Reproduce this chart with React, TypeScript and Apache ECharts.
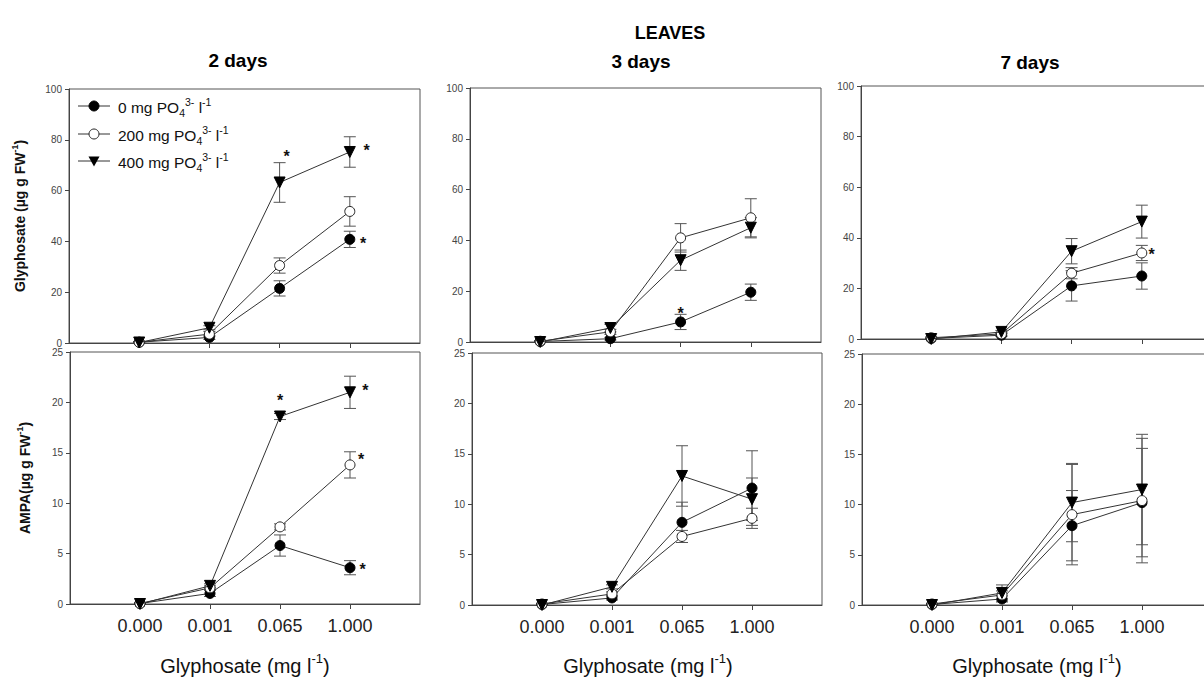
import React, { useEffect, useRef } from 'react';
import * as echarts from 'echarts';

const FONT = 'Arial, "Liberation Sans", Helvetica, sans-serif';

// Categories (glyphosate concentration, mg l-1)
const concLabels = ['0.000', '0.001', '0.065', '1.000'];
const concPos = [0, 1, 2, 3];
const dayTitles = ['2 days', '3 days', '7 days'];

// Glyphosate in leaves (µg g FW-1); rows: 0, 200, 400 mg PO4 3- l-1
const gly2dMeans = [
  [0.3, 2.2, 21.5, 40.8],
  [0.3, 3.5, 30.5, 51.8],
  [0.2, 6.0, 63.2, 75.2],
];
const gly2dErr = [
  [0.3, 0.8, 3.0, 3.2],
  [0.3, 1.0, 3.0, 5.8],
  [0.3, 0.8, 7.8, 6.0],
];
const gly3dMeans = [
  [0.2, 1.3, 7.9, 19.6],
  [0.3, 4.0, 41.0, 48.9],
  [0.0, 5.5, 32.2, 45.0],
];
const gly3dErr = [
  [0.2, 0.5, 3.0, 3.2],
  [0.3, 1.0, 5.6, 7.5],
  [0.2, 1.5, 4.0, 4.0],
];
const gly7dMeans = [
  [0.2, 1.5, 21.0, 24.9],
  [0.5, 2.0, 26.0, 34.0],
  [0.0, 2.8, 34.7, 46.4],
];
const gly7dErr = [
  [0.2, 0.5, 6.0, 5.2],
  [0.3, 0.6, 2.2, 3.0],
  [0.2, 0.6, 5.0, 6.5],
];

// AMPA in leaves (µg g FW-1)
const ampa2dMeans = [
  [0.05, 1.05, 5.8, 3.6],
  [0.05, 1.6, 7.65, 13.8],
  [0.0, 1.8, 18.6, 21.0],
];
const ampa2dErr = [
  [0.05, 0.3, 1.05, 0.7],
  [0.05, 0.2, 0.3, 1.3],
  [0.05, 0.2, 0.3, 1.6],
];
const ampa3dMeans = [
  [0.05, 0.7, 8.2, 11.6],
  [0.1, 1.1, 6.8, 8.6],
  [0.0, 1.8, 12.8, 10.5],
];
const ampa3dErr = [
  [0.05, 0.2, 2.0, 3.7],
  [0.05, 0.2, 0.6, 1.0],
  [0.05, 0.2, 3.0, 2.1],
];
const ampa7dMeans = [
  [0.05, 0.6, 7.9, 10.2],
  [0.1, 1.0, 9.0, 10.4],
  [0.0, 1.2, 10.2, 11.5],
];
const ampa7dErr = [
  [0.05, 0.3, 3.5, 5.4],
  [0.05, 0.4, 5.0, 6.2],
  [0.05, 0.8, 3.9, 5.5],
];

// Significance asterisks [x position, value]
const gly2dStars = [[2.1, 74.9], [3.24, 77.2], [3.19, 40.6]];
const gly3dStars = [[2.0, 12.8]];
const gly7dStars = [[3.14, 34.9]];
const ampa2dStars = [[2.0, 20.6], [3.22, 21.6], [3.16, 14.7], [3.18, 3.8]];
const ampa3dStars: number[][] = [];
const ampa7dStars: number[][] = [];

const glyTicks = { max: 100, interval: 20 };
const ampaTicks = { max: 25, interval: 5 };

type Panel = {
  means: number[][];
  errs: number[][];
  stars: number[][];
  left: number;
  top: number;
  width: number;
  height: number;
  yMax: number;
  yInterval: number;
  bottom: boolean;
};

const panels: Panel[] = [
  { means: gly2dMeans, errs: gly2dErr, stars: gly2dStars, left: 69, top: 89, width: 351, height: 254, yMax: glyTicks.max, yInterval: glyTicks.interval, bottom: false },
  { means: ampa2dMeans, errs: ampa2dErr, stars: ampa2dStars, left: 70, top: 352, width: 350, height: 252, yMax: ampaTicks.max, yInterval: ampaTicks.interval, bottom: true },
  { means: gly3dMeans, errs: gly3dErr, stars: gly3dStars, left: 470, top: 88, width: 351, height: 254, yMax: glyTicks.max, yInterval: glyTicks.interval, bottom: false },
  { means: ampa3dMeans, errs: ampa3dErr, stars: ampa3dStars, left: 472, top: 353, width: 350, height: 252, yMax: ampaTicks.max, yInterval: ampaTicks.interval, bottom: true },
  { means: gly7dMeans, errs: gly7dErr, stars: gly7dStars, left: 861, top: 86, width: 351, height: 253, yMax: glyTicks.max, yInterval: glyTicks.interval, bottom: false },
  { means: ampa7dMeans, errs: ampa7dErr, stars: ampa7dStars, left: 862, top: 354, width: 350, height: 251, yMax: ampaTicks.max, yInterval: ampaTicks.interval, bottom: true },
];

const groupStyles = [
  { symbol: 'circle', size: 10, rotate: 0, fill: '#000', stroke: '#000' },
  { symbol: 'circle', size: 10, rotate: 0, fill: '#fff', stroke: '#222' },
  { symbol: 'triangle', size: 11, rotate: 180, fill: '#000', stroke: '#000' },
];

function buildOption() {
  const grid: any[] = [];
  const xAxis: any[] = [];
  const yAxis: any[] = [];
  const series: any[] = [];

  panels.forEach((p, i) => {
    grid.push({
      left: p.left, top: p.top, width: p.width, height: p.height,
      outerBoundsMode: 'none', containLabel: false,
      show: true, borderColor: '#555', borderWidth: 1, backgroundColor: 'transparent',
    });
    xAxis.push({
      gridIndex: i, type: 'value', min: -1, max: 4, interval: 1,
      axisLine: { show: true, onZero: false, lineStyle: { color: '#444', width: 1 } },
      axisTick: { show: true, customValues: concPos, length: 5, lineStyle: { color: '#444' } },
      axisLabel: {
        show: p.bottom, customValues: concPos, margin: 13,
        formatter: (v: number) => concLabels[Math.round(v)] ?? '',
        fontSize: 18, color: '#222', fontFamily: FONT,
      },
      splitLine: { show: false },
    });
    yAxis.push({
      gridIndex: i, type: 'value', min: 0, max: p.yMax, interval: p.yInterval,
      axisLine: { show: true, onZero: false, lineStyle: { color: '#444', width: 1 } },
      axisTick: { show: true, length: 4, lineStyle: { color: '#444' } },
      axisLabel: { fontSize: 10, color: '#444', margin: 7, fontFamily: FONT },
      splitLine: { show: false },
    });

    const errData: number[][] = [];
    p.means.forEach((row, g) => {
      row.forEach((v, k) => {
        const e = p.errs[g][k];
        errData.push([concPos[k], Math.max(0, v - e), v + e]);
      });
    });
    series.push({
      type: 'custom', xAxisIndex: i, yAxisIndex: i, z: 1, silent: true,
      data: errData,
      renderItem: (_params: any, api: any) => {
        const x = api.value(0);
        const top = api.coord([x, api.value(2)]);
        const bot = api.coord([x, api.value(1)]);
        const w = 6;
        const st = { stroke: '#555', lineWidth: 1 };
        return {
          type: 'group',
          children: [
            { type: 'line', shape: { x1: top[0], y1: top[1], x2: bot[0], y2: bot[1] }, style: st },
            { type: 'line', shape: { x1: top[0] - w, y1: top[1], x2: top[0] + w, y2: top[1] }, style: st },
            { type: 'line', shape: { x1: bot[0] - w, y1: bot[1], x2: bot[0] + w, y2: bot[1] }, style: st },
          ],
        };
      },
    });

    p.means.forEach((row, g) => {
      const gs = groupStyles[g];
      series.push({
        type: 'line', xAxisIndex: i, yAxisIndex: i, z: 2 + g, silent: true,
        data: row.map((v, k) => [concPos[k], v]),
        symbol: gs.symbol, symbolSize: gs.size, symbolRotate: gs.rotate,
        showAllSymbol: true,
        itemStyle: { color: gs.fill, borderColor: gs.stroke, borderWidth: 1 },
        lineStyle: { color: '#333', width: 1 },
        emphasis: { disabled: true },
      });
    });

    if (p.stars.length) {
      series.push({
        type: 'custom', xAxisIndex: i, yAxisIndex: i, z: 10, silent: true,
        data: p.stars,
        renderItem: (_params: any, api: any) => {
          const c = api.coord([api.value(0), api.value(1)]);
          return {
            type: 'text', x: c[0], y: c[1] + 4,
            style: { text: '*', font: `bold 16px ${FONT}`, fill: '#111', align: 'center', verticalAlign: 'middle' },
          };
        },
      });
    }
  });

  const legendRows = [
    { y: 106, text: '{n|0 mg PO}{sub|4}{sup|3-}{n| l}{sup|-1}' },
    { y: 134, text: '{n|200 mg PO}{sub|4}{sup|3-}{n| l}{sup|-1}' },
    { y: 161, text: '{n|400 mg PO}{sub|4}{sup|3-}{n| l}{sup|-1}' },
  ];
  const legendRich = {
    n: { fontSize: 15.5, lineHeight: 22, fontFamily: FONT, fill: '#111' },
    sup: { fontSize: 10.5, lineHeight: 10, verticalAlign: 'top', fontFamily: FONT, fill: '#111' },
    sub: { fontSize: 10.5, lineHeight: 10, verticalAlign: 'bottom', fontFamily: FONT, fill: '#111' },
  };

  const graphic: any[] = [
    { type: 'text', x: 670, y: 33, style: { text: 'LEAVES', font: `bold 18px ${FONT}`, fill: '#000', align: 'center', verticalAlign: 'middle' } },
    ...dayTitles.map((t, d) => ({
      type: 'text', x: [238, 641, 1030][d], y: [60, 61, 62][d],
      style: { text: t, font: `bold 19px ${FONT}`, fill: '#000', align: 'center', verticalAlign: 'middle' },
    })),
  ];

  legendRows.forEach((r, g) => {
    const gs = groupStyles[g];
    graphic.push({ type: 'line', z: 20, shape: { x1: 78, y1: r.y, x2: 110, y2: r.y }, style: { stroke: '#333', lineWidth: 1 } });
    if (gs.symbol === 'circle') {
      graphic.push({ type: 'circle', z: 21, shape: { cx: 94, cy: r.y, r: 5 }, style: { fill: gs.fill, stroke: gs.stroke, lineWidth: 1 } });
    } else {
      graphic.push({ type: 'polygon', z: 21, shape: { points: [[88.5, r.y - 4.5], [99.5, r.y - 4.5], [94, r.y + 5.5]] }, style: { fill: '#000' } });
    }
    graphic.push({
      type: 'text', z: 21, x: 118, y: r.y + 1,
      style: { text: r.text, rich: legendRich, align: 'left', verticalAlign: 'middle', fill: '#111' },
    });
  });

  const yTitleRich = {
    b: { fontSize: 14, fontWeight: 'bold', lineHeight: 20, fontFamily: FONT, fill: '#111' },
    s: { fontSize: 9, fontWeight: 'bold', lineHeight: 9, verticalAlign: 'top', fontFamily: FONT, fill: '#111' },
  };
  graphic.push({
    type: 'text', x: 20, y: 216, rotation: Math.PI / 2,
    style: { text: '{b|Glyphosate (µg g FW}{s|-1}{b|)}', rich: yTitleRich, align: 'center', verticalAlign: 'middle' },
  });
  graphic.push({
    type: 'text', x: 25, y: 478, rotation: Math.PI / 2,
    style: { text: '{b|AMPA(µg g FW}{s|-1}{b|)}', rich: yTitleRich, align: 'center', verticalAlign: 'middle' },
  });

  const xTitleRich = {
    n: { fontSize: 20, lineHeight: 28, fontFamily: FONT, fill: '#111' },
    sup: { fontSize: 13, lineHeight: 13, verticalAlign: 'top', fontFamily: FONT, fill: '#111' },
  };
  [245, 648, 1037].forEach((cx) => {
    graphic.push({
      type: 'text', x: cx, y: 666,
      style: { text: '{n|Glyphosate (mg l}{sup|-1}{n|)}', rich: xTitleRich, align: 'center', verticalAlign: 'middle' },
    });
  });

  return {
    animation: false,
    backgroundColor: '#fff',
    textStyle: { fontFamily: FONT },
    grid, xAxis, yAxis, series, graphic,
  };
}

export default function App() {
  const ref = useRef<HTMLDivElement>(null);
  useEffect(() => {
    if (!ref.current) return;
    const chart = echarts.init(ref.current, undefined, { renderer: 'svg' });
    chart.setOption(buildOption() as any);
    return () => chart.dispose();
  }, []);
  return (
    <div
      ref={ref}
      style={{ position: 'absolute', left: 0, top: 0, width: 1204, height: 685, background: '#fff' }}
    />
  );
}
